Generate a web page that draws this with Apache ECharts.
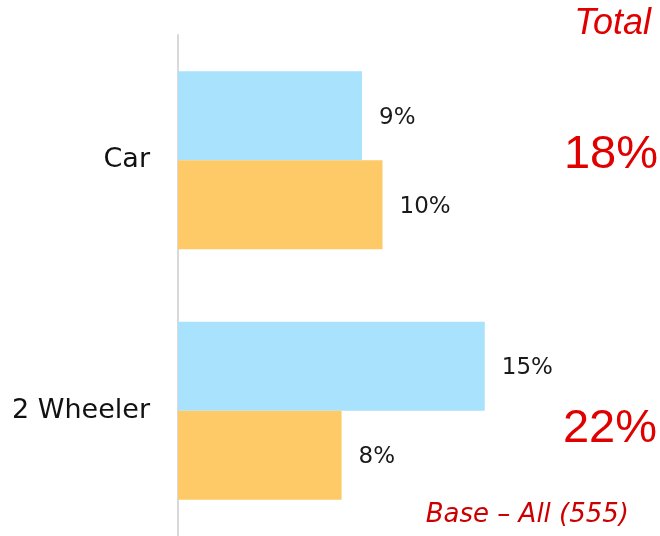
<!DOCTYPE html>
<html>
<head>
<meta charset="utf-8">
<script src="https://cdn.jsdelivr.net/npm/echarts@6/dist/echarts.min.js"></script>
<style>
html,body{margin:0;padding:0;background:#fff;}
#main{width:660px;height:536px;}
</style>
</head>
<body>
<div id="main"></div>
<script>
// data
var categories = ['Car', '2 Wheeler'];
var seriesA = [9, 15];   // light blue
var seriesB = [10, 8];   // orange
var totals = ['18%', '22%'];

var myChart = echarts.init(document.getElementById('main'));

var labelStyle = {
    show: true,
    position: 'right',
    distance: 17,
    offset: [0, 2],
    formatter: '{c}%',
    color: '#1a1a1a',
    fontSize: 23,
    fontFamily: 'DejaVu Sans'
};

var options = {
    animation: false,
    grid: { left: 178, top: 35, width: 409, height: 502 },
    xAxis: {
        type: 'value',
        min: 0,
        max: 20,
        show: false
    },
    yAxis: {
        type: 'category',
        inverse: true,
        data: categories,
        axisLine: { show: true, lineStyle: { color: '#d9d9d9', width: 2 } },
        axisTick: { show: false },
        axisLabel: {
            margin: 28,
            color: '#111',
            fontSize: 27,
            fontFamily: 'DejaVu Sans'
        }
    },
    series: [
        {
            name: 'A',
            type: 'bar',
            barWidth: 89,
            barGap: '0%',
            data: seriesA,
            itemStyle: { color: '#a9e2fd' },
            label: labelStyle
        },
        {
            name: 'B',
            type: 'bar',
            barWidth: 89,
            barGap: '0%',
            data: seriesB,
            itemStyle: { color: '#feca67' },
            label: labelStyle
        }
    ],
    graphic: [
        {
            type: 'text', x: 651, y: 24,
            style: { text: 'Total', fill: '#e00000', font: 'italic 36px "Liberation Sans"', align: 'right', verticalAlign: 'middle' }
        },
        {
            type: 'text', x: 658, y: 155,
            style: { text: totals[0], fill: '#e00000', font: '47px "Liberation Sans"', align: 'right', verticalAlign: 'middle' }
        },
        {
            type: 'text', x: 657, y: 429,
            style: { text: totals[1], fill: '#e00000', font: '47px "Liberation Sans"', align: 'right', verticalAlign: 'middle' }
        },
        {
            type: 'text', x: 629, y: 515,
            style: { text: 'Base – All (555)', fill: '#cc0000', font: 'italic 26px "DejaVu Sans"', align: 'right', verticalAlign: 'middle' }
        }
    ]
};

myChart.setOption(options);
</script>
</body>
</html>
